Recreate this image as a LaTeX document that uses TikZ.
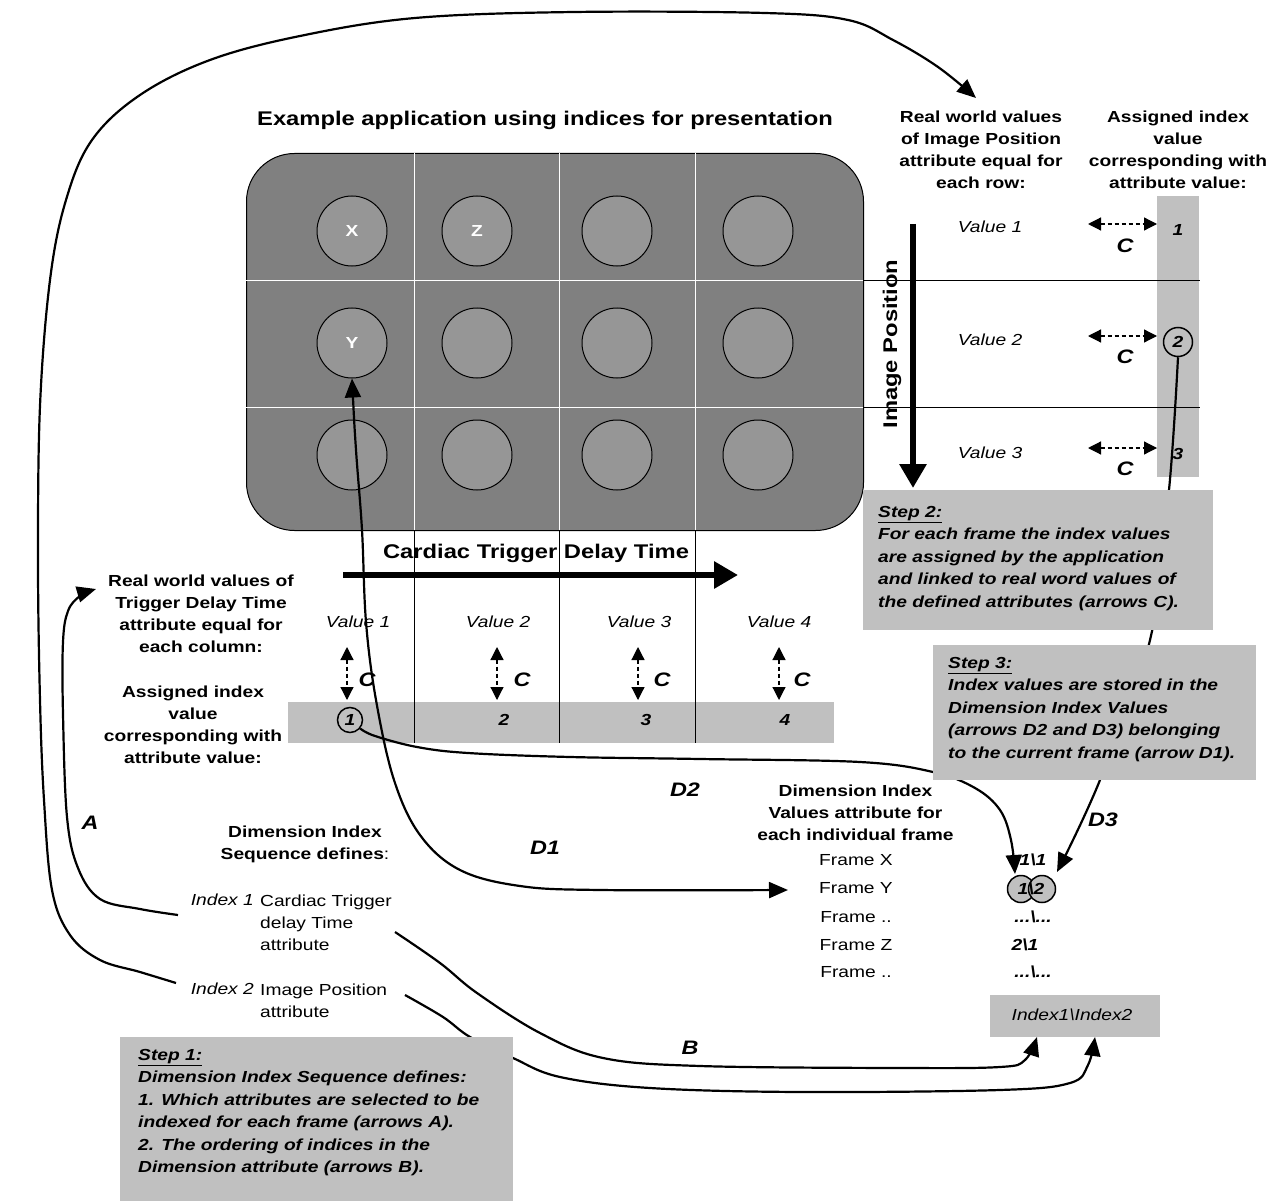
\documentclass[tikz,border=0pt]{standalone}
\usepackage{fontspec}
\setmainfont{Liberation Sans}[FakeStretch=1.2]
\usetikzlibrary{arrows.meta}
\definecolor{boxgray}{HTML}{808080}
\definecolor{circgray}{HTML}{969696}
\definecolor{lgray}{HTML}{C0C0C0}
\newcommand{\fm}{\fontsize{16}{22}\selectfont}
\newcommand{\fbig}{\fontsize{19.8}{23}\selectfont}
\newcommand{\flab}{\fontsize{19.5}{22}\selectfont}
\newcommand{\fstep}{\fontsize{16}{22.5}\selectfont}
\begin{document}
\begin{tikzpicture}[x=1pt,y=-1pt,
  >={Triangle[length=19pt,width=16pt]},
  txt/.style={inner sep=0pt, align=center, font=\fm},
  hdr/.style={inner sep=0pt, align=center, font=\fm\bfseries},
  valtxt/.style={inner sep=0pt, font=\fm\itshape},
  bi/.style={inner sep=0pt, font=\fm\bfseries\itshape},
  lab/.style={inner sep=0pt, font=\flab\bfseries\itshape},
  pcirc/.style={circle, draw, line width=1pt, fill=circgray, minimum size=70pt, inner sep=0pt},
  plab/.style={inner sep=0pt, font=\fm\bfseries, text=white},
  stepbox/.style={fill=lgray, inner sep=0pt, anchor=north west},
  steptext/.style={inner sep=0pt, anchor=north west, align=left, font=\fstep\bfseries\itshape},
  conn/.style={line width=2.2pt},
  cdash/.style={line width=1.2pt, dash pattern=on 4pt off 3pt, {Triangle[length=13pt,width=13pt]}-{Triangle[length=13pt,width=13pt]}},
  thick arrow/.style={line width=6pt, -{Triangle[length=24pt,width=26pt]}},
  thin line/.style={line width=1pt}
]
\useasboundingbox (0,0) rectangle (1272,1201);
\fill[white] (0,0) rectangle (1272,1201);

% ---------- title
\node[inner sep=0pt, font=\fbig\bfseries] (title) at (545,120) {Example application using indices for presentation};

% ---------- presentation grid
\node[draw, thin line, fill=boxgray, rounded corners=48pt, minimum width=617pt, minimum height=377pt, inner sep=0pt, anchor=north west] (grid) at (246,153) {};
\draw[white, line width=1pt] (414,153) -- (414,530) (559,153) -- (559,530) (695,153) -- (695,530)
  (246,280) -- (863,280) (246,407) -- (863,407);
\foreach \c/\x in {1/352,2/477,3/617,4/758}
  \foreach \r/\y in {1/231,2/343,3/455}
    \node[pcirc] (c\r\c) at (\x,\y) {};
\node[plab] (lX) at (c11) {X};
\node[plab] (lZ) at (c12) {Z};
\node[plab] (lY) at (c21) {Y};

% ---------- right side (image position)
\node[hdr] (rwip) at (981,149.5) {Real world values\\of Image Position\\attribute equal for\\each row:};
\node[hdr] (aiv1) at (1178,149.5) {Assigned index\\value\\corresponding with\\attribute value:};
\node[stepbox, minimum width=42pt, minimum height=281pt] (rstrip) at (1157,196) {};
\draw[thin line] (863,280) -- (1200,280) (863,407) -- (1200,407);
\node[inner sep=0pt, rotate=90, font=\fbig\bfseries] (imgpos) at (892,344) {Image Position};
\coordinate (ipA) at (913,224);
\coordinate (ipB) at (913,488);
\draw[thick arrow] (ipA) -- (ipB);
\node[valtxt] (rv1) at (990,227) {Value 1};
\node[valtxt] (rv2) at (990,340) {Value 2};
\node[valtxt] (rv3) at (990,453) {Value 3};
\node[bi] (ri1) at (1178,230) {1};
\node[circle, draw, line width=1.5pt, minimum size=29pt, inner sep=0pt, font=\fm\bfseries\itshape] (ri2) at (1178,342) {2};
\node[bi] (ri3) at (1178,454) {3};
\foreach \i/\y in {1/224,2/336,3/448}{
  \coordinate (rcA\i) at (1088,\y);
  \coordinate (rcB\i) at (1157,\y);
  \draw[cdash] (rcA\i) -- (rcB\i);
}
\node[lab] (rc1) at (1125,246) {C};
\node[lab] (rc2) at (1125,357) {C};
\node[lab] (rc3) at (1125,469) {C};

% ---------- bottom side (trigger delay)
\node[inner sep=0pt, font=\fbig\bfseries] (ctdt) at (536,553) {Cardiac Trigger Delay Time};
\coordinate (ctA) at (343,575);
\coordinate (ctB) at (738,575);
\draw[thick arrow] (ctA) -- (ctB);
\node[stepbox, minimum width=546pt, minimum height=41pt] (bstrip) at (288,702) {};
\draw[thin line] (414,530) -- (414,743) (559,530) -- (559,743) (695,530) -- (695,743);
\node[hdr] (rwtd) at (201,613.5) {Real world values of\\Trigger Delay Time\\attribute equal for\\each column:};
\node[hdr] (aiv2) at (193,725) {Assigned index\\value\\corresponding with\\attribute value:};
\node[valtxt] (bv1) at (358,622) {Value 1};
\node[valtxt] (bv2) at (498,622) {Value 2};
\node[valtxt] (bv3) at (639,622) {Value 3};
\node[valtxt] (bv4) at (779,622) {Value 4};
\foreach \i/\x in {1/347,2/497,3/638,4/779}{
  \coordinate (bcA\i) at (\x,647);
  \coordinate (bcB\i) at (\x,700);
  \draw[cdash] (bcA\i) -- (bcB\i);
}
\node[lab] (bc1) at (367,680) {C};
\node[lab] (bc2) at (522,680) {C};
\node[lab] (bc3) at (662,680) {C};
\node[lab] (bc4) at (802,680) {C};
\node[circle, draw, line width=1.5pt, minimum size=25pt, inner sep=0pt, font=\fm\bfseries\itshape] (bi1) at (350,720) {1};
\node[bi] (bi2) at (504,720) {2};
\node[bi] (bi3) at (646,720) {3};
\node[bi] (bi4) at (785,720) {4};

% ---------- dimension index sequence
\node[hdr] (dis) at (305,844) {Dimension Index\\Sequence defines\mdseries:};
\node[valtxt, anchor=east] (i1lab) at (254,900) {Index 1};
\node[txt, anchor=west, align=left] (i1txt) at (260,922.5) {Cardiac Trigger\\delay Time\\attribute};
\node[valtxt, anchor=east] (i2lab) at (254,989) {Index 2};
\node[txt, anchor=west, align=left] (i2txt) at (260,1000.5) {Image Position\\attribute};

% ---------- dimension index values
\node[hdr] (div) at (855.5,812.5) {Dimension Index\\Values attribute for\\each individual frame};
\node[txt] (fX) at (856,860) {Frame X};
\node[txt] (fY) at (856,888) {Frame Y};
\node[txt] (f3) at (856,917) {Frame ..};
\node[txt] (fZ) at (856,945) {Frame Z};
\node[txt] (f5) at (856,972) {Frame ..};
\node[bi] (vX) at (1033,860) {1\textbackslash 1};
\node[circle, draw, line width=1.5pt, fill=lgray, minimum size=27pt, inner sep=0pt] (fy1) at (1021,889) {};
\node[circle, draw, line width=1.5pt, fill=lgray, minimum size=27pt, inner sep=0pt] (fy2) at (1042,889) {};
\node[bi] (vY) at (1031,889) {1\textbackslash 2};
\node[bi] (v3) at (1033,917) {...\textbackslash...};
\node[bi] (vZ) at (1025,945) {2\textbackslash 1};
\node[bi] (v5) at (1033,972) {...\textbackslash...};
\node[stepbox, minimum width=170pt, minimum height=42pt] (ibox) at (990,995) {};
\node[valtxt] (itxt) at (1072,1015) {Index1\textbackslash Index2};

% ---------- connectors hidden behind the step boxes
\coordinate (d3e) at (1057,872);
\draw[conn,->] plot[smooth, tension=0.6] coordinates {(ri2.south) (1169,490) (1150,640) (1100,780) (d3e)};
\coordinate (d2e) at (1015,874);
\draw[conn,->] plot[smooth, tension=0.6] coordinates {(bi1.-40) (375,736) (417,747) (468,753) (570,757) (700,759) (860,762) (933,772) (975,788) (1000,810) (1011,840) (d2e)};
\coordinate (b2s) at (405,995);
\coordinate (b2e) at (1095,1037);
\draw[conn,->] plot[smooth, tension=0.6] coordinates {(b2s) (443,1017) (470,1037) (513,1058) (560,1077) (650,1088) (800,1092) (1000,1090) (1070,1083) (1088,1065) (b2e)};

% ---------- step boxes
\node[stepbox, minimum width=350pt, minimum height=140pt] (s2box) at (863,490) {};
\node[steptext] (s2) at (878,506) {\underline{Step 2:}\\For each frame the index values\\are assigned by the application\\and linked to real word values of\\the defined attributes (arrows C).};
\node[stepbox, minimum width=323pt, minimum height=135pt] (s3box) at (933,645) {};
\node[steptext] (s3) at (948,657) {\underline{Step 3:}\\Index values are stored in the\\Dimension Index Values\\(arrows D2 and D3) belonging\\to the current frame (arrow D1).};
\node[stepbox, minimum width=393pt, minimum height=164pt] (s1box) at (120,1037) {};
\node[steptext] (s1) at (138,1049) {\underline{Step 1:}\\Dimension Index Sequence defines:\\1. Which attributes are selected to be\\indexed for each frame (arrows A).\\2. The ordering of indices in the\\Dimension attribute (arrows B).};

% ---------- other connectors
\coordinate (d1e) at (788,890);
\draw[conn,<->] plot[smooth, tension=0.6] coordinates {(c21.south) (356,450) (362,530) (366,622) (376,700) (394,780) (420,835) (460,870) (520,886) (600,890) (d1e)};
\coordinate (b1s) at (395,932);
\coordinate (b1e) at (1037,1037);
\draw[conn,->] plot[smooth, tension=0.6] coordinates {(b1s) (440,963) (477,993) (540,1033) (603,1058) (700,1066) (900,1068) (1000,1067) (1025,1060) (b1e)};
\coordinate (aIs) at (178,915);
\coordinate (aIe) at (96,589);
\draw[conn,->] plot[smooth, tension=0.6] coordinates {(aIs) (140,909) (100,899) (78,868) (67,817) (63,714) (63,642) (68,611) (80,596) (aIe)};
\coordinate (aOs) at (176,983);
\coordinate (aOe) at (976,98);
\draw[conn,->] plot[smooth, tension=0.6] coordinates {(aOs) (140,972) (100,960) (70,935) (52,890) (44,800) (40,700) (38,560) (40,406) (50,280) (66,200) (92,140) (140,95) (210,60) (300,36) (415,18) (574,12) (765,13) (848,20) (893,40) (938,67) (aOe)};

% ---------- connector labels
\node[lab] (lA) at (90,823) {A};
\node[lab] (lB) at (690,1048) {B};
\node[lab] (lD1) at (545,848) {D1};
\node[lab] (lD2) at (685,790) {D2};
\node[lab] (lD3) at (1103,820) {D3};
\end{tikzpicture}
\end{document}
